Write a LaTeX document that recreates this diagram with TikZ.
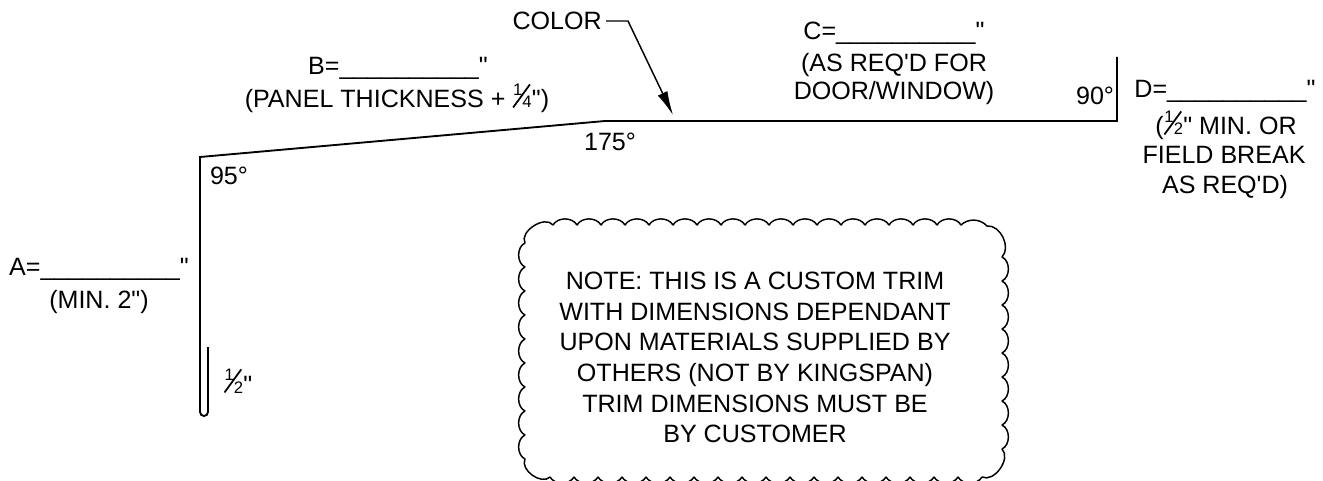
\documentclass[tikz,border=0pt]{standalone}
\usepackage{fontspec}
\setmainfont{Liberation Sans}[Ligatures=TeXOff]
\usetikzlibrary{arrows.meta, positioning}
\newcommand{\Blank}{\_\_\_\_\_\_\_\_\_\_}
\newcommand{\Frac}[2]{\makebox[.78em][l]{\rlap{\rotatebox{54}{\rule{1.14em}{.07em}}}\rlap{\kern.03em\raisebox{.5em}{\fontsize{12.5}{12.5}\selectfont #1}}\kern.4em\fontsize{12.5}{12.5}\selectfont #2}}
\tikzset{
    trim/.style={draw, line width=1.4pt, line join=miter},
    leader/.style={draw, line width=1.1pt, line join=miter},
    scallop/.style={draw, line width=1.1pt, line join=round},
    every node/.append style={font=\fontsize{18.8}{22.95}\selectfont, align=center, inner sep=0pt},
    lbl/.style={anchor=base},
}

\begin{document}
\begin{tikzpicture}[x=0.75pt, y=-0.75pt]
    \useasboundingbox (0,0) rectangle (1323,481);

    % trim profile
    \coordinate (hemtop) at (208,347);
    \coordinate (hemright) at (208,412);
    \coordinate (p0) at (200,157);
    \coordinate (p1) at (605,121);
    \coordinate (p2) at (1117,121);
    \coordinate (p3) at (1117,57);
    \draw[trim] (hemtop) -- (hemright) arc[start angle=0, end angle=-180, radius=3pt] -- (p0) -- (p1) -- (p2) -- (p3);

    % dimensions
    \node[lbl] (dimA) at (99,275) {A=\Blank"};
    \node[lbl] (noteA) at (99,308) {(MIN. 2")};
    \node[lbl] (dimB) at (398,75) {B=\Blank"};
    \node[lbl] (noteB) at (397,108) {(PANEL THICKNESS + \Frac{1}{4}")};
    \node[lbl] (dimC) at (894,40) {C=\Blank"};
    \node[lbl] (noteCa) at (894,72) {(AS REQ'D FOR};
    \node[lbl] (noteCb) at (894,100) {DOOR/WINDOW)};
    \node[lbl] (dimD) at (1225,98) {D=\Blank"};
    \node[lbl] (noteDa) at (1226,135) {(\Frac{1}{2}" MIN. OR};
    \node[lbl] (noteDb) at (1224,163) {FIELD BREAK};
    \node[lbl] (noteDc) at (1225,193) {AS REQ'D)};
    \node[lbl] (hem) at (238,393) {\Frac{1}{2}"};

    % angles
    \node[lbl] (ang95) at (229,185) {95°};
    \node[lbl] (ang175) at (610,151) {175°};
    \node[lbl] (ang90) at (1095,105) {90°};

    % finish callout
    \node[lbl, anchor=base east] (color) at (602,30) {COLOR};
    \coordinate (colorstart) at (606,21);
    \coordinate (colorbend) at (628,21);
    \coordinate (colortip) at (673,115);
    \draw[leader, -{Latex[length=18pt, width=8pt]}] (colorstart) -- (colorbend) -- (colortip);

    % note cloud
    \node (note) at (755,357.5) {NOTE: THIS IS A CUSTOM TRIM\\WITH DIMENSIONS DEPENDANT\\UPON MATERIALS SUPPLIED BY\\OTHERS (NOT BY KINGSPAN)\\TRIM DIMENSIONS MUST BE\\BY CUSTOMER};
    \begin{scope}
    \clip (0,0) rectangle (1323,481);
    \draw[scallop] (553,225) foreach \i in {1,...,17} {to[bend left=60] ++(24,0)}
        to[bend left=45] (987,226) to[bend left=70] (1002,257)
        foreach \i in {1,...,8} {to[bend left=65] ++(0,24)}
        to[bend left=80] (982,477) foreach \i in {1,...,18} {to[bend left=60] ++(-24,0)}
        to[bend left=80] (525,459) foreach \i in {1,...,9} {to[bend left=65] ++(0,-24)}
        to[bend left=85] (553,225);
    \end{scope}
\end{tikzpicture}
\end{document}
